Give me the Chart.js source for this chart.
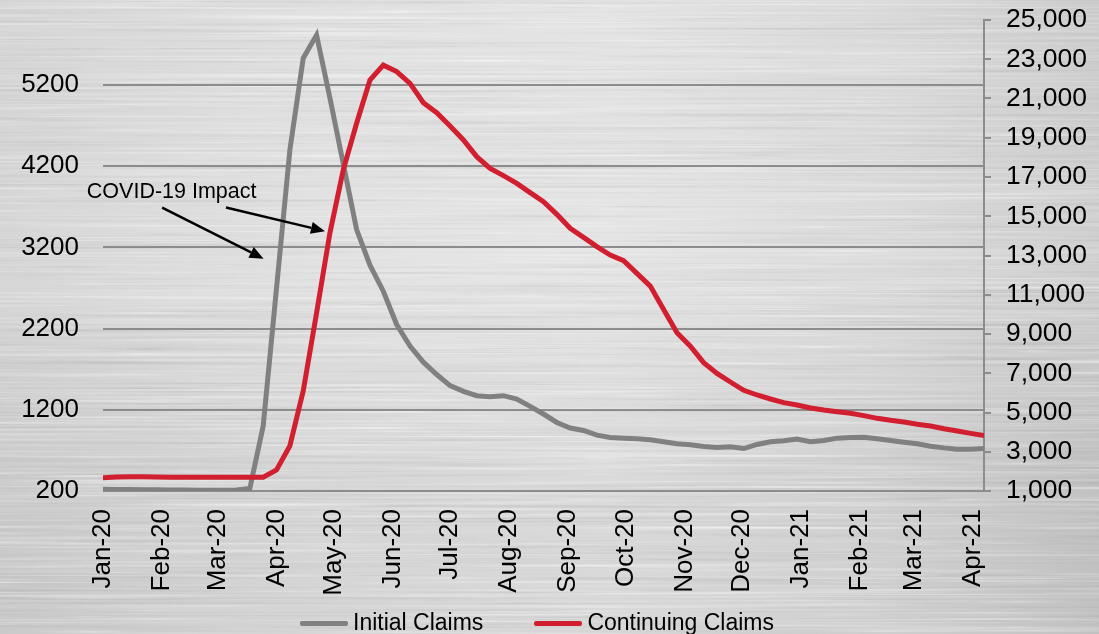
<!DOCTYPE html>
<html>
<head>
<meta charset="utf-8">
<title>Initial and Continuing Jobless Claims</title>
<script src="https://cdn.jsdelivr.net/npm/chart.js@4.4.1/dist/chart.umd.min.js"></script>
<style>
  html, body { margin: 0; padding: 0; width: 1099px; height: 634px; overflow: hidden; background: #d6d6d6; }
  #wrap { position: relative; width: 1099px; height: 634px; }
  #metal, #chart { position: absolute; left: 0; top: 0; }
  #legend {
    position: absolute; left: 300px; top: 607px; height: 30px;
    display: flex; align-items: center;
    font-family: "Liberation Sans", Arial, Helvetica, sans-serif; font-size: 23px; color: #000;
  }
  .item { display: flex; align-items: center; margin-right: 51px; }
  .swatch { width: 48px; height: 5px; border-radius: 2px; margin-right: 5px; margin-top: 3px; }
</style>
</head>
<body>
<div id="wrap">
  <canvas id="metal" width="1099" height="634"></canvas>
  <canvas id="chart" width="1099" height="634"></canvas>
  <div id="legend"></div>
</div>
<script>
// Week-ending dates of the weekly claims series
const weekEnding = [
  '2020-01-04','2020-01-11','2020-01-18','2020-01-25',
  '2020-02-01','2020-02-08','2020-02-15','2020-02-22','2020-02-29',
  '2020-03-07','2020-03-14','2020-03-21','2020-03-28',
  '2020-04-04','2020-04-11','2020-04-18','2020-04-25',
  '2020-05-02','2020-05-09','2020-05-16','2020-05-23','2020-05-30',
  '2020-06-06','2020-06-13','2020-06-20','2020-06-27',
  '2020-07-04','2020-07-11','2020-07-18','2020-07-25',
  '2020-08-01','2020-08-08','2020-08-15','2020-08-22','2020-08-29',
  '2020-09-05','2020-09-12','2020-09-19','2020-09-26',
  '2020-10-03','2020-10-10','2020-10-17','2020-10-24','2020-10-31',
  '2020-11-07','2020-11-14','2020-11-21','2020-11-28',
  '2020-12-05','2020-12-12','2020-12-19','2020-12-26',
  '2021-01-02','2021-01-09','2021-01-16','2021-01-23','2021-01-30',
  '2021-02-06','2021-02-13','2021-02-20','2021-02-27',
  '2021-03-06','2021-03-13','2021-03-20','2021-03-27',
  '2021-04-03','2021-04-10'
];

// Initial claims, thousands (left axis)
const initialClaims = [
  222, 220, 218, 216, 214, 212, 211, 210, 210, 209,
  212, 232, 1000, 2700, 4400, 5530, 5815, 5040, 4230, 3420,
  2980, 2660, 2250, 1984, 1786, 1634, 1498, 1427, 1374, 1362,
  1374, 1333, 1242, 1148, 1044, 975, 946, 888, 859, 851,
  843, 830, 806, 781, 770, 748, 735, 744, 723, 773,
  806, 818, 839, 806, 822, 851, 859, 863, 843, 822,
  801, 781, 752, 731, 715, 715, 723
];

// Continuing claims, thousands (right axis)
const continuingClaims = [
  1680, 1710, 1720, 1720, 1715, 1700, 1695, 1695, 1695, 1695,
  1700, 1700, 1700, 2070, 3300, 6100, 10070, 14150, 17360, 19740,
  21940, 22700, 22370, 21773, 20788, 20278, 19599, 18885, 18036, 17442,
  17068, 16677, 16202, 15743, 15098, 14384, 13926, 13450, 13025, 12737,
  12091, 11440, 10250, 9060, 8380, 7539, 6995, 6554, 6129, 5892,
  5688, 5501, 5382, 5229, 5127, 5042, 4958, 4839, 4703, 4601,
  4516, 4397, 4312, 4176, 4057, 3938, 3820
];

// Axis ticks
const monthTicks = [
  '2020-01-04','2020-02-04','2020-03-04','2020-04-04','2020-05-04','2020-06-04',
  '2020-07-04','2020-08-04','2020-09-04','2020-10-04','2020-11-04','2020-12-04',
  '2021-01-04','2021-02-04','2021-03-04','2021-04-04'
];
const leftTicks = [200, 1200, 2200, 3200, 4200, 5200];
const rightTicks = [1000, 3000, 5000, 7000, 9000, 11000, 13000, 15000, 17000, 19000, 21000, 23000, 25000];

const seriesNames = ['Initial Claims', 'Continuing Claims'];
const seriesColors = ['#808080', '#d11f2f'];

const noteText = 'COVID-19 Impact';

// ---------------------------------------------------------------------------
const FONT = '"Liberation Sans", Arial, Helvetica, sans-serif';
const MONTHS = ['Jan','Feb','Mar','Apr','May','Jun','Jul','Aug','Sep','Oct','Nov','Dec'];
const DAY = 86400000;
const parseDate = s => { const [y, m, d] = s.split('-').map(Number); return Date.UTC(y, m - 1, d); };
const origin = parseDate(weekEnding[0]);
const dayOf = s => Math.round((parseDate(s) - origin) / DAY);
const monthLabel = s => { const [y, m] = s.split('-').map(Number); return MONTHS[m - 1] + '-' + String(y).slice(2); };
const tickLabelByDay = new Map(monthTicks.map(s => [dayOf(s), monthLabel(s)]));

const points = values => weekEnding.map((d, i) => ({ x: dayOf(d), y: values[i] }));

// Brushed-metal backdrop: soft horizontal streaks over a light grey sheen
(function paintMetal() {
  const c = document.getElementById('metal');
  const g = c.getContext('2d');
  const W = c.width, H = c.height;
  const sheen = g.createLinearGradient(0, 0, W, 0);
  sheen.addColorStop(0, '#d2d2d2');
  sheen.addColorStop(0.3, '#dfdfdf');
  sheen.addColorStop(0.55, '#e2e2e2');
  sheen.addColorStop(0.8, '#d8d8d8');
  sheen.addColorStop(1, '#c9c9c9');
  g.fillStyle = sheen;
  g.fillRect(0, 0, W, H);
  const shade = g.createLinearGradient(0, 0, 0, H);
  shade.addColorStop(0, 'rgba(255,255,255,0.06)');
  shade.addColorStop(0.45, 'rgba(255,255,255,0.10)');
  shade.addColorStop(1, 'rgba(0,0,0,0.04)');
  g.fillStyle = shade;
  g.fillRect(0, 0, W, H);
  // deterministic streak pattern
  let s = 1234567;
  const nextVal = () => { s = (s * 16807) % 2147483647; return s / 2147483647; };
  g.filter = 'blur(0.6px)';
  for (let k = 0; k < 3600; k++) {
    const y = nextVal() * H;
    const x = nextVal() * (W + 300) - 300;
    const len = 60 + nextVal() * 420;
    const light = nextVal() < 0.55;
    const a = light ? 0.10 + nextVal() * 0.22 : 0.03 + nextVal() * 0.06;
    const grad = g.createLinearGradient(x, 0, x + len, 0);
    const col = light ? '255,255,255' : '120,120,120';
    grad.addColorStop(0, `rgba(${col},0)`);
    grad.addColorStop(0.5, `rgba(${col},${a})`);
    grad.addColorStop(1, `rgba(${col},0)`);
    g.fillStyle = grad;
    g.fillRect(x, y, len, nextVal() < 0.3 ? 2 : 1);
  }
  g.filter = 'none';
})();

// Callout text with two arrows, positioned in data coordinates
const covidNote = {
  text: noteText,
  at: { x: 36, y: 3880 },
  arrows: [
    { from: { x: 31, y: 3690 }, to: { x: 84.2, y: 3060 } },
    { from: { x: 64.5, y: 3690 }, to: { x: 116.4, y: 3400 } }
  ]
};

function drawArrow(ctx, x1, y1, x2, y2) {
  const ang = Math.atan2(y2 - y1, x2 - x1);
  const head = 14, half = 6;
  const bx = x2 - head * Math.cos(ang), by = y2 - head * Math.sin(ang);
  ctx.beginPath();
  ctx.moveTo(x1, y1);
  ctx.lineTo(bx, by);
  ctx.lineWidth = 2.5;
  ctx.strokeStyle = '#000';
  ctx.stroke();
  ctx.beginPath();
  ctx.moveTo(x2, y2);
  ctx.lineTo(bx + half * Math.sin(ang), by - half * Math.cos(ang));
  ctx.lineTo(bx - half * Math.sin(ang), by + half * Math.cos(ang));
  ctx.closePath();
  ctx.fillStyle = '#000';
  ctx.fill();
}

const calloutPlugin = {
  id: 'covidCallout',
  afterDatasetsDraw(chart) {
    const { ctx } = chart;
    const x = chart.scales.x, y = chart.scales.y;
    ctx.save();
    ctx.font = '21.5px ' + FONT;
    ctx.fillStyle = '#000';
    ctx.textAlign = 'center';
    ctx.textBaseline = 'middle';
    ctx.fillText(covidNote.text, x.getPixelForValue(covidNote.at.x), y.getPixelForValue(covidNote.at.y));
    covidNote.arrows.forEach(a => drawArrow(ctx,
      x.getPixelForValue(a.from.x), y.getPixelForValue(a.from.y),
      x.getPixelForValue(a.to.x), y.getPixelForValue(a.to.y)));
    ctx.restore();
  }
};

// vertical axes: fixed width, no extra label overhang above/below the plot
const fitVertical = width => s => { s.width = width; s.paddingTop = 0; s.paddingBottom = 0; };

Chart.defaults.font.family = FONT;
Chart.defaults.color = '#000';

const chart = new Chart(document.getElementById('chart'), {
  type: 'line',
  data: {
    datasets: [
      {
        label: seriesNames[0],
        data: points(initialClaims),
        yAxisID: 'y',
        borderColor: seriesColors[0],
        backgroundColor: seriesColors[0],
        borderWidth: 5,
        pointRadius: 0,
        tension: 0,
        order: 1
      },
      {
        label: seriesNames[1],
        data: points(continuingClaims),
        yAxisID: 'y2',
        borderColor: seriesColors[1],
        backgroundColor: seriesColors[1],
        borderWidth: 5,
        pointRadius: 0,
        tension: 0,
        order: 0
      }
    ]
  },
  options: {
    responsive: false,
    animation: false,
    devicePixelRatio: 1,
    layout: { padding: { left: 0, right: 0, top: 20, bottom: 0 } },
    plugins: {
      legend: { display: false },
      tooltip: { enabled: false }
    },
    scales: {
      x: {
        type: 'linear',
        min: 0,
        max: dayOf(weekEnding[weekEnding.length - 1]),
        afterBuildTicks: s => { s.ticks = monthTicks.map(t => ({ value: dayOf(t) })); },
        afterFit: s => { s.height = 143; s.paddingLeft = 0; s.paddingRight = 0; },
        ticks: {
          autoSkip: false,
          minRotation: 90,
          maxRotation: 90,
          padding: 18,
          font: { size: 26 },
          color: '#000',
          callback: v => tickLabelByDay.get(v) || ''
        },
        grid: { display: false, drawTicks: false },
        border: { display: false }
      },
      y: {
        type: 'linear',
        position: 'left',
        min: 200,
        max: 6000,
        afterBuildTicks: s => { s.ticks = leftTicks.map(v => ({ value: v })); },
        afterFit: fitVertical(103),
        ticks: { padding: 24, font: { size: 26 }, color: '#000', callback: v => String(v) },
        grid: { color: '#8c8c8c', lineWidth: 2, drawTicks: false },
        border: { display: false }
      },
      y2: {
        type: 'linear',
        position: 'right',
        min: 1000,
        max: 25000,
        afterBuildTicks: s => { s.ticks = rightTicks.map(v => ({ value: v })); },
        afterFit: fitVertical(115),
        ticks: { padding: 15, font: { size: 26.5 }, color: '#000', callback: v => v.toLocaleString('en-US') },
        grid: { drawOnChartArea: false, drawTicks: true, tickLength: 7, color: '#8c8c8c', lineWidth: 2 },
        border: { display: true, color: '#8c8c8c', width: 2 }
      }
    }
  },
  plugins: [calloutPlugin]
});

// Legend built from the chart's own datasets
const legendEl = document.getElementById('legend');
chart.data.datasets.forEach(ds => {
  const item = document.createElement('div');
  item.className = 'item';
  const sw = document.createElement('span');
  sw.className = 'swatch';
  sw.style.background = ds.borderColor;
  const label = document.createElement('span');
  label.textContent = ds.label;
  item.appendChild(sw);
  item.appendChild(label);
  legendEl.appendChild(item);
});
</script>
</body>
</html>
